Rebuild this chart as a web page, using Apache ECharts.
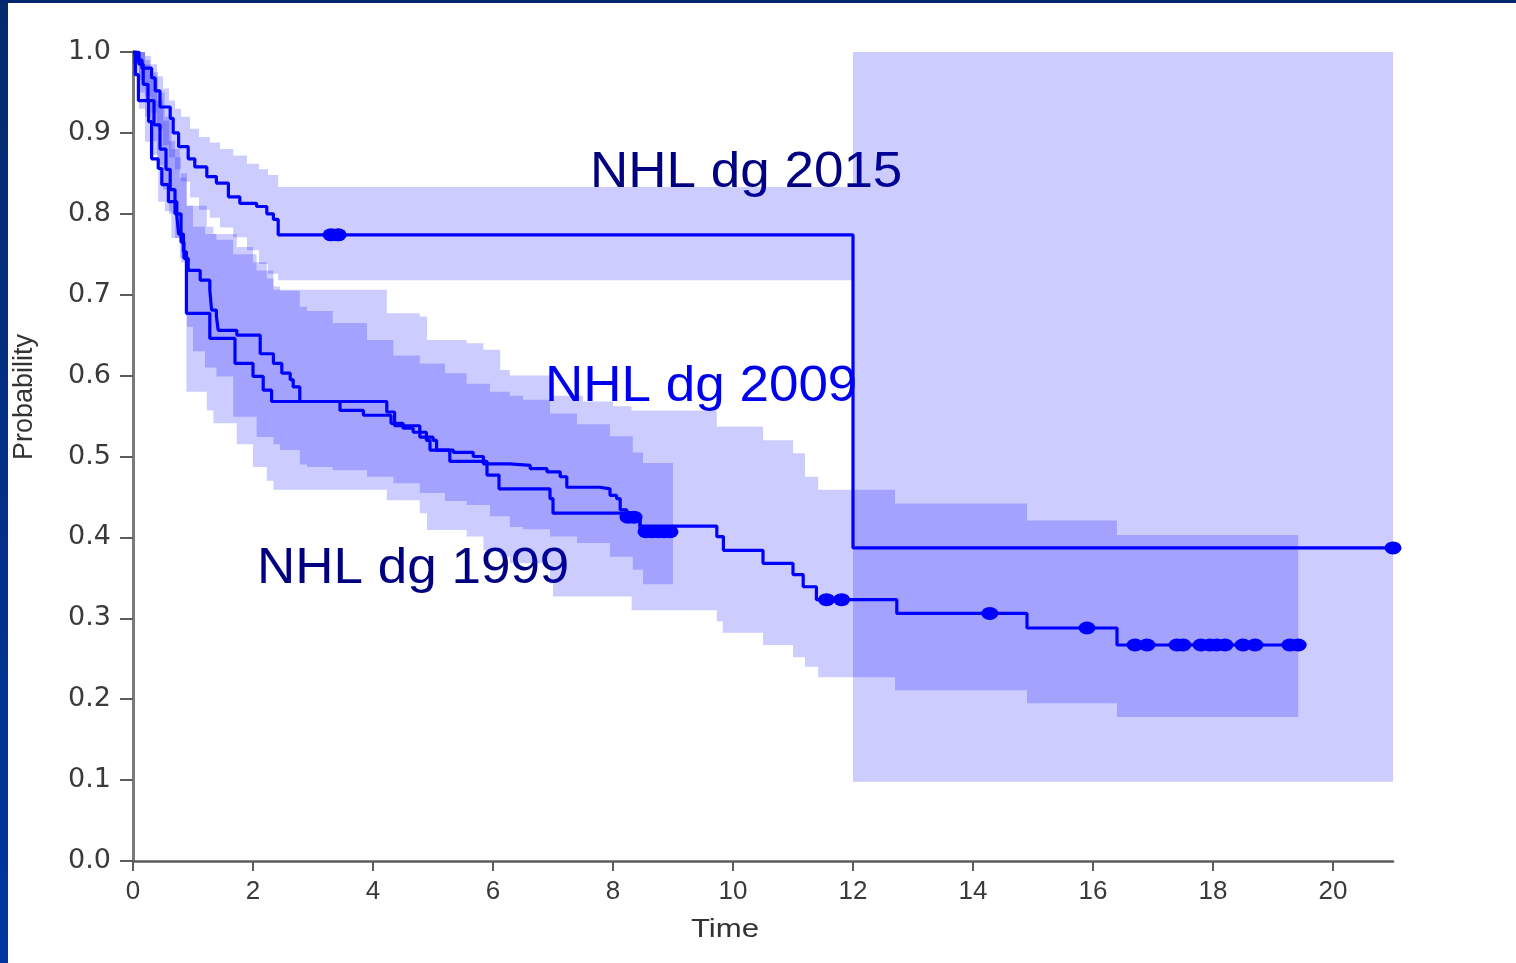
<!DOCTYPE html>
<html>
<head>
<meta charset="utf-8">
<title>NHL survival by diagnosis year</title>
<script src="https://cdn.jsdelivr.net/npm/echarts@6/dist/echarts.min.js"></script>
<style>
  html, body { margin: 0; padding: 0; background: #fff; }
  #chart { position: absolute; left: 0; top: 0; width: 1516px; height: 963px; }
  .edge-left { position: absolute; left: 0; top: 0; width: 8px; height: 963px; background: linear-gradient(#062a6e, #0036a0); }
  .edge-top { position: absolute; left: 0; top: 0; width: 1516px; height: 3px; background: #04266f; }
</style>
</head>
<body>
<div id="chart"></div>
<div class="edge-left"></div>
<div class="edge-top"></div>
<script>
// Kaplan-Meier steps: [time, survival], each value holds until the next time
const surv2015 = [[0, 1.0], [0.06, 0.99], [0.15, 0.98], [0.31, 0.968], [0.37, 0.952], [0.45, 0.932], [0.62, 0.918], [0.67, 0.9], [0.76, 0.883], [0.92, 0.868], [1.03, 0.858], [1.23, 0.846], [1.39, 0.838], [1.59, 0.821], [1.78, 0.813], [2.06, 0.809], [2.23, 0.8], [2.34, 0.793], [2.42, 0.774], [12.0, 0.387], [21.0, 0.387]];

const surv2009 = [[0, 1.0], [0.1, 0.985], [0.17, 0.96], [0.25, 0.94], [0.35, 0.91], [0.45, 0.88], [0.55, 0.855], [0.62, 0.83], [0.7, 0.8], [0.8, 0.765], [0.85, 0.745], [0.92, 0.73], [1.12, 0.718], [1.28, 0.706], [1.31, 0.681], [1.39, 0.673], [1.42, 0.656], [1.73, 0.65], [2.12, 0.627], [2.34, 0.615], [2.48, 0.603], [2.62, 0.595], [2.67, 0.586], [2.78, 0.568], [4.23, 0.555], [4.36, 0.538], [4.78, 0.524], [5.0, 0.52], [5.06, 0.508], [5.34, 0.505], [5.67, 0.5], [5.84, 0.491], [6.28, 0.489], [6.62, 0.485], [6.9, 0.481], [7.12, 0.475], [7.23, 0.462], [7.78, 0.46], [7.95, 0.452], [8.06, 0.448], [8.12, 0.434], [8.23, 0.425], [8.45, 0.407], [9.05, 0.407]];

const surv1999 = [[0, 1.0], [0.04, 0.972], [0.09, 0.94], [0.26, 0.914], [0.31, 0.868], [0.42, 0.856], [0.48, 0.836], [0.59, 0.815], [0.73, 0.798], [0.76, 0.775], [0.84, 0.753], [0.89, 0.677], [1.28, 0.646], [1.7, 0.615], [2.0, 0.599], [2.17, 0.582], [2.31, 0.568], [3.45, 0.557], [3.84, 0.551], [4.3, 0.541], [4.5, 0.535], [4.67, 0.53], [4.89, 0.52], [4.95, 0.508], [5.28, 0.494], [5.9, 0.477], [6.1, 0.46], [6.95, 0.448], [7.0, 0.43], [8.17, 0.425], [8.45, 0.414], [9.73, 0.401], [9.84, 0.384], [10.5, 0.368], [11.0, 0.354], [11.17, 0.339], [11.39, 0.323], [12.73, 0.306], [14.9, 0.288], [16.4, 0.267], [19.42, 0.267]];

// censoring marks
const cens2015 = [[3.3, 0.774], [3.42, 0.774], [21.0, 0.387]];
const cens2009 = [[8.25, 0.425], [8.35, 0.425], [8.55, 0.407], [8.65, 0.407], [8.75, 0.407], [8.85, 0.407], [8.95, 0.407]];
const cens1999 = [[11.56, 0.323], [11.81, 0.323], [14.28, 0.306], [15.9, 0.288], [16.7, 0.267], [16.9, 0.267], [17.4, 0.267], [17.5, 0.267], [17.8, 0.267], [17.95, 0.267], [18.06, 0.267], [18.2, 0.267], [18.5, 0.267], [18.7, 0.267], [19.28, 0.267], [19.42, 0.267]];

// confidence bands: [time, lower, upper], step-wise like the curves
const band2015 = [[0, 0.985, 1.0], [0.1, 0.965, 1.0], [0.2, 0.945, 0.995], [0.3, 0.925, 0.985], [0.4, 0.905, 0.97], [0.5, 0.885, 0.955], [0.6, 0.87, 0.94], [0.7, 0.855, 0.93], [0.8, 0.84, 0.92], [0.95, 0.82, 0.905], [1.1, 0.805, 0.895], [1.28, 0.795, 0.888], [1.45, 0.783, 0.88], [1.67, 0.771, 0.872], [1.9, 0.755, 0.862], [2.1, 0.738, 0.855], [2.25, 0.726, 0.848], [2.42, 0.718, 0.833], [12.0, 0.098, 1.0], [21.0, 0.098, 1.0]];

const band1999 = [[0, 0.97, 1.0], [0.1, 0.93, 1.0], [0.2, 0.889, 0.99], [0.28, 0.873, 0.975], [0.42, 0.815, 0.95], [0.53, 0.803, 0.92], [0.64, 0.77, 0.88], [0.78, 0.745, 0.845], [0.89, 0.58, 0.81], [1.23, 0.557, 0.784], [1.34, 0.541, 0.775], [1.73, 0.515, 0.759], [2.0, 0.487, 0.74], [2.23, 0.47, 0.72], [2.34, 0.459, 0.706], [4.23, 0.446, 0.677], [4.78, 0.43, 0.673], [4.9, 0.409, 0.644], [5.56, 0.401, 0.64], [5.84, 0.384, 0.632], [6.12, 0.376, 0.607], [6.28, 0.368, 0.6], [6.95, 0.343, 0.578], [7.0, 0.327, 0.575], [7.5, 0.327, 0.568], [8.0, 0.327, 0.562], [8.31, 0.31, 0.557], [9.73, 0.296, 0.537], [9.83, 0.282, 0.537], [10.5, 0.267, 0.52], [11.0, 0.252, 0.504], [11.2, 0.24, 0.475], [11.42, 0.227, 0.459], [12.7, 0.211, 0.442], [14.9, 0.195, 0.421], [16.4, 0.178, 0.403], [19.42, 0.178, 0.403]];

const band2009 = [[0, 0.985, 1.0], [0.1, 0.95, 1.0], [0.2, 0.92, 0.985], [0.3, 0.89, 0.965], [0.4, 0.86, 0.94], [0.5, 0.83, 0.915], [0.6, 0.8, 0.89], [0.7, 0.77, 0.87], [0.8, 0.74, 0.85], [0.9, 0.66, 0.81], [1.0, 0.63, 0.784], [1.2, 0.61, 0.775], [1.39, 0.599, 0.768], [1.67, 0.549, 0.75], [2.06, 0.524, 0.73], [2.34, 0.515, 0.71], [2.45, 0.508, 0.705], [2.78, 0.49, 0.685], [2.9, 0.487, 0.68], [3.33, 0.483, 0.665], [3.9, 0.475, 0.644], [4.34, 0.467, 0.625], [4.78, 0.455, 0.615], [5.2, 0.445, 0.603], [5.56, 0.44, 0.59], [5.95, 0.426, 0.58], [6.28, 0.413, 0.575], [6.5, 0.41, 0.57], [6.95, 0.401, 0.553], [7.4, 0.393, 0.54], [7.95, 0.376, 0.525], [8.33, 0.36, 0.505], [8.5, 0.342, 0.492], [9.0, 0.342, 0.492]];

const curveLabels = ['NHL dg 2015', 'NHL dg 2009', 'NHL dg 1999'];

const lineBlue = '#0000ff';
const bandFill = 'rgba(0, 0, 255, 0.2)';
const axisGrey = '#5c5c5c';
const sansFont = '"Liberation Sans", Arial, sans-serif';

// one polygon per band, built from the step rows
function bandSeries(name, rows) {
  return {
    type: 'custom',
    name: name,
    silent: true,
    z: 1,
    data: rows,
    encode: { x: 0, y: [1, 2] },
    renderItem(params, api) {
      if (params.dataIndex !== 0) return;
      const upper = [];
      const lower = [];
      for (let i = 0; i < rows.length - 1; i++) {
        const [t, lo, hi] = rows[i];
        const tNext = rows[i + 1][0];
        upper.push(api.coord([t, hi]), api.coord([tNext, hi]));
        lower.push(api.coord([t, lo]), api.coord([tNext, lo]));
      }
      return {
        type: 'polygon',
        shape: { points: upper.concat(lower.reverse()) },
        style: { fill: bandFill },
      };
    },
  };
}

function curveSeries(name, data) {
  return {
    type: 'line',
    name: name,
    step: 'end',
    data: data,
    showSymbol: false,
    z: 3,
    lineStyle: { color: lineBlue, width: 3.2 },
  };
}

function censorSeries(name, data) {
  return {
    type: 'scatter',
    name: name,
    data: data,
    symbol: 'circle',
    symbolSize: [17, 13],
    z: 4,
    itemStyle: { color: lineBlue, opacity: 1 },
  };
}

function label(text, x, y, color) {
  return {
    type: 'text',
    x: x,
    y: y,
    scaleX: 1.06,
    style: {
      text: text,
      fontFamily: sansFont,
      fontSize: 50,
      fill: color,
      textVerticalAlign: 'middle',
      verticalAlign: 'middle',
    },
  };
}

const chart = echarts.init(document.getElementById('chart'));

chart.setOption({
  animation: false,
  backgroundColor: '#ffffff',
  grid: { left: 133, right: 123, top: 52, bottom: 102 },
  xAxis: {
    type: 'value',
    min: 0,
    max: 21,
    interval: 2,
    splitLine: { show: false },
    axisLine: { onZero: false, lineStyle: { color: axisGrey, width: 2.5 } },
    axisTick: { length: 10, lineStyle: { color: axisGrey, width: 2 } },
    axisLabel: {
      showMaxLabel: false,
      margin: 18,
      color: '#3a3a3a',
      fontSize: 26,
      fontFamily: sansFont,
    },
  },
  yAxis: {
    type: 'value',
    min: 0,
    max: 1,
    interval: 0.1,
    splitLine: { show: false },
    axisLine: { show: true, lineStyle: { color: '#7a7a7a', width: 3 } },
    axisTick: { show: true, length: 13, lineStyle: { color: axisGrey, width: 2 } },
    axisLabel: {
      margin: 22,
      color: '#3a3a3a',
      fontSize: 27,
      fontFamily: '"DejaVu Sans", sans-serif',
      formatter: v => v.toFixed(1),
    },
  },
  graphic: [
    label(curveLabels[0], 590, 173, '#000080'),
    label(curveLabels[1], 545, 387, '#0000f0'),
    label(curveLabels[2], 257, 569, '#000080'),
    {
      type: 'text',
      x: 725,
      y: 930,
      scaleX: 1.2,
      style: {
        text: 'Time',
        fontFamily: sansFont,
        fontSize: 26,
        fill: '#333333',
        textAlign: 'center',
        align: 'center',
        textVerticalAlign: 'middle',
        verticalAlign: 'middle',
      },
    },
    {
      type: 'text',
      x: 25,
      y: 397,
      rotation: Math.PI / 2,
      style: {
        text: 'Probability',
        fontFamily: sansFont,
        fontSize: 27,
        fill: '#333333',
        textAlign: 'center',
        align: 'center',
        textVerticalAlign: 'middle',
        verticalAlign: 'middle',
      },
    },
  ],
  series: [
    bandSeries('band 2015', band2015),
    bandSeries('band 1999', band1999),
    bandSeries('band 2009', band2009),
    curveSeries(curveLabels[0], surv2015),
    curveSeries(curveLabels[1], surv2009),
    curveSeries(curveLabels[2], surv1999),
    censorSeries('censored 2015', cens2015),
    censorSeries('censored 2009', cens2009),
    censorSeries('censored 1999', cens1999),
  ],
});
</script>
</body>
</html>
